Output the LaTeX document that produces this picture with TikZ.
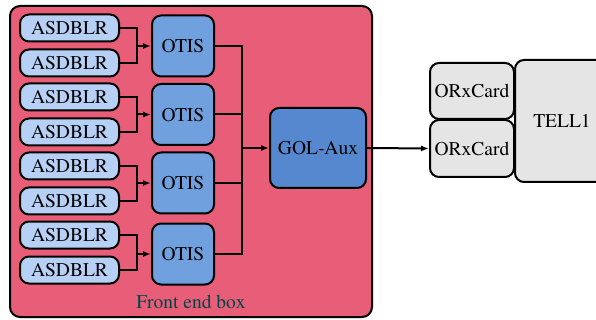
\documentclass[tikz,border=0pt]{standalone}
\usepackage[T1]{fontenc}
\usepackage{times}
\usetikzlibrary{arrows.meta,calc}
\definecolor{febox}{RGB}{232,93,120}
\definecolor{asdc}{RGB}{183,208,245}
\definecolor{otisc}{RGB}{113,160,222}
\definecolor{golc}{RGB}{86,136,207}
\definecolor{grayc}{RGB}{229,229,229}
\definecolor{tealc}{RGB}{0,70,72}
\tikzset{
  every node/.style={font=\rmfamily\fontsize{19.5}{22}\selectfont, inner sep=0pt},
  asd/.style={draw, line width=2pt, fill=asdc, rounded corners=9pt, minimum width=99pt, minimum height=27pt},
  otis/.style={draw, line width=2pt, fill=otisc, rounded corners=9pt, minimum width=62pt, minimum height=61pt},
  gol/.style={draw, line width=2pt, fill=golc, rounded corners=9pt, minimum width=96pt, minimum height=80pt},
  card/.style={draw, line width=2pt, fill=grayc, rounded corners=9pt},
  wire/.style={line width=2pt},
  arr/.style={line width=2pt, -{Latex[length=8pt,width=6pt]}}
}
\begin{document}
\begin{tikzpicture}[x=1pt,y=-1pt]
\useasboundingbox (0,0) rectangle (596,320);
\node[draw, line width=2pt, fill=febox, rounded corners=10pt, minimum width=362pt, minimum height=311pt] (fe) at (191,161.5) {};
\node[text=tealc] (felabel) at (191,302) {Front end box};
\foreach \i/\y in {1/28,2/63,3/97,4/132,5/166,6/201,7/235,8/270}
  \node[asd] (a\i) at (69.5,\y) {ASDBLR};
\foreach \i/\y in {1/46,2/114.5,3/183,4/254}
  \node[otis] (o\i) at (183,\y) {OTIS};
\node[gol] (g) at (318,148) {GOL-Aux};
\node[card, minimum width=94pt, minimum height=122pt] (tell) at (562,121) {TELL1};
\node[card, minimum width=84pt, minimum height=56pt] (r1) at (472,91) {ORxCard};
\node[card, minimum width=84pt, minimum height=57pt] (r2) at (472,148.5) {ORxCard};
\foreach \p/\a/\b in {1/1/2,2/3/4,3/5/6,4/7/8}{
  \coordinate (j\p) at ($(a\a.east)!0.5!(a\b.east)+(17,0)$);
  \draw[wire] (a\a.east) -| (j\p |- o\p.west) |- (a\b.east);
  \draw[arr] (j\p |- o\p.west) -- (o\p.west);
}
\coordinate (jg) at (242,148);
\draw[wire] (o1.east) -| (jg) |- (o4.east);
\draw[wire] (o2.east) -- (o2.east -| jg);
\draw[wire] (o3.east) -- (o3.east -| jg);
\draw[arr] (jg) -- (g.west);
\draw[arr] (g.east) -- (r2.west);
\end{tikzpicture}
\end{document}
